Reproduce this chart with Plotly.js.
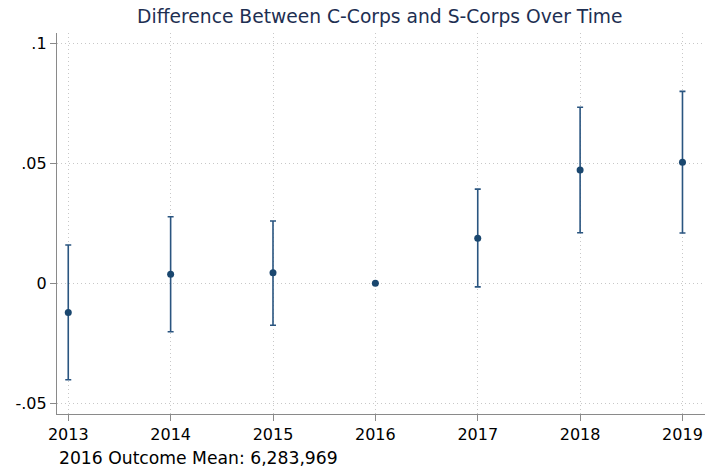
<!DOCTYPE html>
<html>
<head>
<meta charset="utf-8">
<script src="https://cdn.plot.ly/plotly-3.0.1.min.js"></script>
<style>html,body{margin:0;padding:0;background:#fff;}#chart{width:706px;height:469px;}</style>
</head>
<body>
<div id="chart"></div>
<script>
const years = [2013, 2014, 2015, 2016, 2017, 2018, 2019];
const estimates = [-0.0122, 0.0037, 0.0044, 0.0, 0.0187, 0.0472, 0.0504];
const ciUpper = [0.0159, 0.0277, 0.0259, 0.0, 0.0392, 0.0733, 0.0799];
const ciLower = [-0.0402, -0.0202, -0.0175, 0.0, -0.0015, 0.0210, 0.0209];
const yTickVals = [-0.05, 0, 0.05, 0.1];
const yTickText = ['-.05', '0', '.05', '.1'];
const noteText = '2016 Outcome Mean: 6,283,969';

const errPlus = estimates.map((v, i) => ciUpper[i] - v);
const errMinus = estimates.map((v, i) => v - ciLower[i]);

const navy = '#1a476f';
const font = 'DejaVu Sans, sans-serif';

const trace = {
  x: years,
  y: estimates,
  type: 'scatter',
  mode: 'markers',
  marker: {color: navy, size: 7},
  error_y: {
    type: 'data', symmetric: false,
    array: errPlus, arrayminus: errMinus,
    color: '#2a5580', thickness: 1.6, width: 3
  },
  hoverinfo: 'x+y'
};

const layout = {
  width: 706, height: 469,
  margin: {l: 57, r: 1, t: 33, b: 55},
  paper_bgcolor: '#ffffff', plot_bgcolor: '#ffffff',
  showlegend: false,
  font: {family: font, size: 16, color: '#000'},
  title: {
    text: 'Difference Between C-Corps and S-Corps Over Time',
    font: {family: font, size: 18.7, color: '#1e2f52'},
    x: 0.538, xanchor: 'center', y: 0.965, yanchor: 'middle'
  },
  xaxis: {
    range: [2012.89, 2019.22],
    tickvals: years,
    ticktext: years.map(String),
    showgrid: true, gridcolor: '#c8c8c8', griddash: '1px,3px', gridwidth: 1,
    zeroline: false,
    showline: true, linecolor: '#8a8a8a', linewidth: 1.2,
    ticks: 'outside', ticklen: 6, tickcolor: '#8a8a8a',
    tickfont: {family: font, size: 16, color: '#000'},
    fixedrange: true
  },
  yaxis: {
    range: [-0.05445, 0.1042],
    tickvals: yTickVals,
    ticktext: yTickText,
    showgrid: true, gridcolor: '#c8c8c8', griddash: '1px,3px', gridwidth: 1,
    zeroline: false,
    showline: true, linecolor: '#8a8a8a', linewidth: 1.2,
    ticks: 'outside', ticklen: 6, tickcolor: '#8a8a8a',
    tickfont: {family: font, size: 16, color: '#000'},
    fixedrange: true
  },
  annotations: [{
    text: noteText,
    xref: 'paper', yref: 'paper',
    x: 0.0005, y: -0.115, xanchor: 'left', yanchor: 'middle',
    showarrow: false,
    font: {family: font, size: 17.2, color: '#000'}
  }]
};

Plotly.newPlot('chart', [trace], layout, {displayModeBar: false, staticPlot: true});
</script>
</body>
</html>
